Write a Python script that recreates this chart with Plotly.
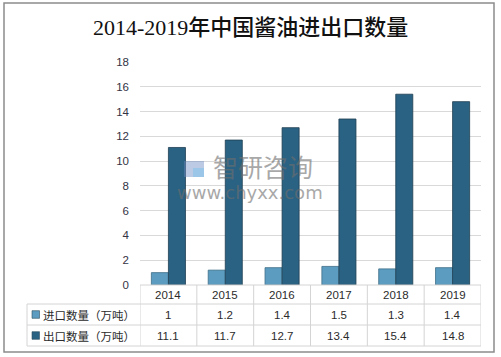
import plotly.graph_objects as go

years = ["2014", "2015", "2016", "2017", "2018", "2019"]
import_vals = [1, 1.2, 1.4, 1.5, 1.3, 1.4]
export_vals = [11.1, 11.7, 12.7, 13.4, 15.4, 14.8]
series_names = ["进口数量（万吨）", "出口数量（万吨）"]
title_text = "2014-2019年中国酱油进出口数量"
y_ticks = [0, 2, 4, 6, 8, 10, 12, 14, 16, 18]

W, H = 501, 357
L, R, T, B = 140, 20, 62, 72
PW, PH = W - L - R, H - T - B

def px(x):
    return (x - L) / PW

def py(y):
    return (H - B - y) / PH

c_imp = "#5b9cc0"
c_exp = "#2a6283"
grid_c = "#d9d9d9"
tbl_c = "#d4d4d4"
txt_c = "#2b2b2b"

fig = go.Figure()
xs = list(range(len(years)))
fig.add_trace(go.Bar(x=xs, y=import_vals, name=series_names[0], hoverinfo="skip",
                     marker=dict(color=c_imp, line=dict(color="#3f6f88", width=0.8))))
fig.add_trace(go.Bar(x=xs, y=export_vals, name=series_names[1], hoverinfo="skip",
                     marker=dict(color=c_exp, line=dict(color="#1f3f52", width=0.8))))

shapes = []
annotations = []

def ann(**kw):
    kw.setdefault("xanchor", "center")
    kw.setdefault("yanchor", "middle")
    kw.setdefault("showarrow", False)
    annotations.append(kw)

# outer border
shapes.append(dict(type="rect", xref="paper", yref="paper",
                   x0=px(4), x1=px(494), y0=py(352), y1=py(3),
                   line=dict(color="#8c8c8c", width=1.5), layer="below"))

# table lines
row_lines = [285, 304, 325, 346]
for i, yy in enumerate(row_lines):
    x0 = px(140) if i == 0 else px(27)
    shapes.append(dict(type="line", xref="paper", yref="paper",
                       x0=x0, x1=1, y0=py(yy), y1=py(yy),
                       line=dict(color=tbl_c, width=1)))
shapes.append(dict(type="line", xref="paper", yref="paper",
                   x0=px(27), x1=px(27), y0=py(304), y1=py(346),
                   line=dict(color=tbl_c, width=1)))
for i in range(len(years) + 1):
    shapes.append(dict(type="line", xref="x", yref="paper",
                       x0=i - 0.5, x1=i - 0.5, y0=py(285), y1=py(346),
                       line=dict(color=tbl_c, width=1)))

# header years and values
cell_font = dict(size=11.5, color=txt_c, family="Liberation Sans")
for i, yr in enumerate(years):
    ann(x=i, y=py(294.5), xref="x", yref="paper", text=yr, font=cell_font)
    ann(x=i, y=py(314.5), xref="x", yref="paper", text=str(import_vals[i]), font=cell_font)
    ann(x=i, y=py(335.5), xref="x", yref="paper", text=str(export_vals[i]), font=cell_font)

# row labels with legend keys
for name, col, yc in [(series_names[0], c_imp, 314.5), (series_names[1], c_exp, 335.5)]:
    shapes.append(dict(type="rect", xref="paper", yref="paper",
                       x0=px(32), x1=px(39.5), y0=py(yc + 3.8), y1=py(yc - 3.8),
                       fillcolor=col, line=dict(color="#2f4f60", width=0.6)))
    ann(x=px(40.5), y=py(yc), xref="paper", yref="paper", text=name, xanchor="left",
        font=dict(size=11.5, color=txt_c, family="Noto Sans CJK SC"))

# title
ann(x=px(250.5), y=py(27), xref="paper", yref="paper", text=title_text,
    font=dict(size=22, color="#111111", family="Liberation Serif, Noto Sans CJK SC",
              weight=500))

# watermark
ann(x=px(263), y=py(166), xref="paper", yref="paper", text="智研咨询", opacity=0.6,
    font=dict(size=25, color="#6f6f6f", family="Noto Sans CJK SC"))
ann(x=px(250), y=py(193), xref="paper", yref="paper", text="www.chyxx.com", opacity=0.6,
    font=dict(size=18, color="#6f6f6f", family="DejaVu Sans"))
shapes.append(dict(type="rect", xref="paper", yref="paper",
                   x0=px(184), x1=px(204), y0=py(177), y1=py(161),
                   fillcolor="#6a8ac0", opacity=0.45, line=dict(width=0)))
shapes.append(dict(type="rect", xref="paper", yref="paper",
                   x0=px(193), x1=px(204), y0=py(177), y1=py(168),
                   fillcolor="#8fc4e8", opacity=0.7, line=dict(width=0)))

fig.update_layout(
    width=W, height=H,
    margin=dict(l=L, r=R, t=T, b=B),
    paper_bgcolor="white", plot_bgcolor="white",
    barmode="group", bargap=0.4, bargroupgap=0,
    showlegend=False, hovermode=False,
    xaxis=dict(range=[-0.5, len(years) - 0.5], showticklabels=False, fixedrange=True,
               showgrid=False, zeroline=False, showline=False, ticks=""),
    yaxis=dict(range=[0, 18], tickvals=y_ticks, showgrid=True, gridcolor=grid_c,
               gridwidth=1, zeroline=False, showline=False, ticks="", fixedrange=True,
               ticklabelstandoff=10,
               tickfont=dict(size=11.5, color="#333344", family="Liberation Sans")),
    shapes=shapes, annotations=annotations,
)

fig.write_html("out.html", config={"displayModeBar": False},
               post_script="document.body.style.margin='0';document.body.style.padding='0';")
